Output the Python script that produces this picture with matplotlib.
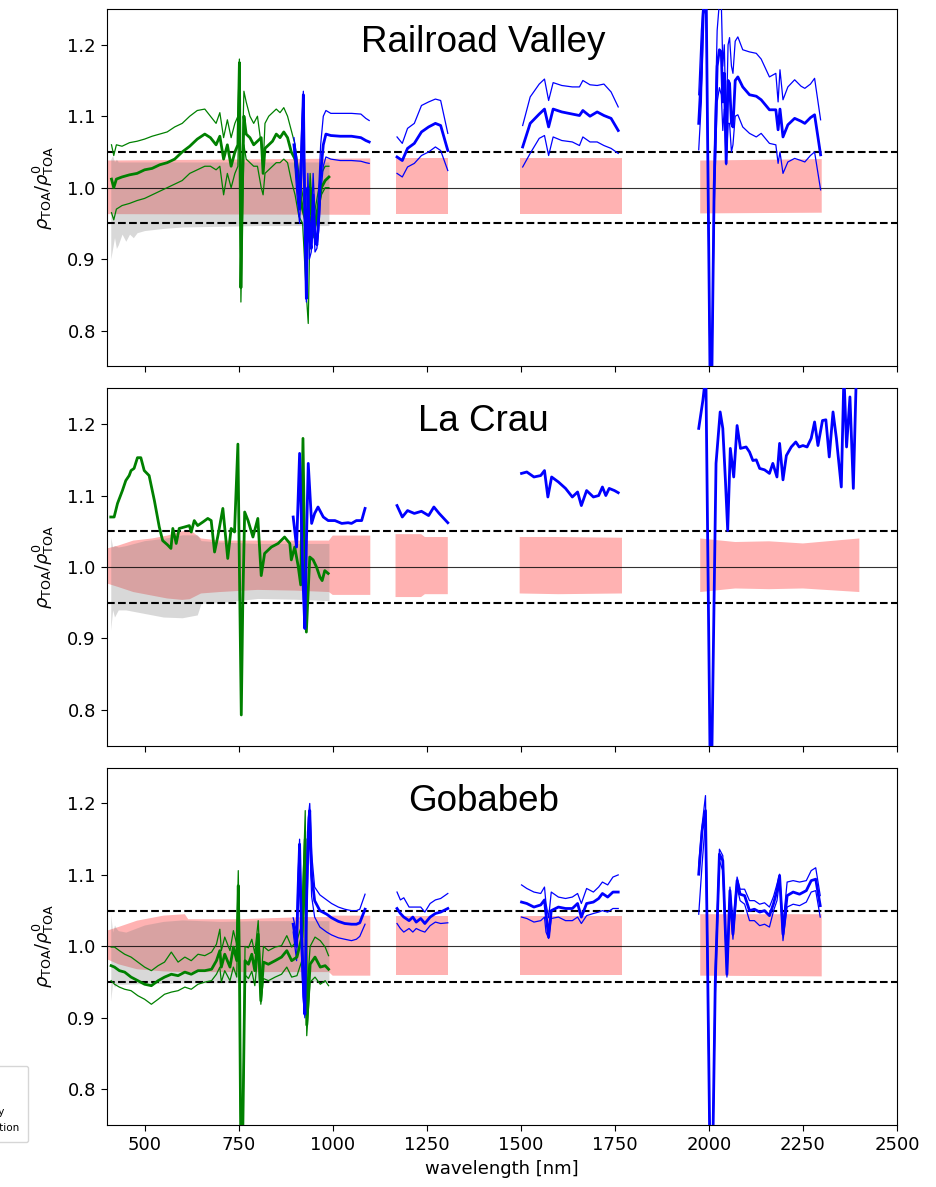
import numpy as np
import matplotlib
matplotlib.use("Agg")
import matplotlib.pyplot as plt
from matplotlib.lines import Line2D
from matplotlib.patches import Patch

nan = np.nan

# ── Railroad Valley ────────────────────────────────────────────────────
RV_VNIR_WL = [412, 418, 425, 440, 460, 480, 500, 520, 540, 560, 580, 600, 620, 640, 660,
              675, 690, 700, 710, 720, 730, 740, 748, 752, 756, 760, 764, 770, 780, 790,
              800, 810, 815, 820, 830, 840, 850, 860, 870, 880, 890, 900, 910, 920, 930,
              935, 940, 945, 950, 960, 970, 980, 990]
RV_VNIR_MEAN = [1.012, 1.0, 1.012, 1.015, 1.018, 1.02, 1.025, 1.027, 1.032, 1.035, 1.04, 1.05,
                1.058, 1.068, 1.075, 1.07, 1.06, 1.072, 1.04, 1.06, 1.03, 1.05, 1.06, 1.175,
                0.86, 1.0, 1.10, 1.075, 1.07, 1.06, 1.065, 1.07, 1.02, 1.055, 1.06, 1.065,
                1.075, 1.07, 1.078, 1.07, 1.05, 1.04, 1.0, 0.97, 0.95, 0.93, 1.0, 0.96, 0.94,
                0.97, 1.0, 1.01, 1.015]
RV_VNIR_HI = [1.06, 1.045, 1.06, 1.058, 1.063, 1.065, 1.068, 1.072, 1.075, 1.078, 1.085, 1.09,
              1.10, 1.108, 1.11, 1.10, 1.09, 1.105, 1.07, 1.095, 1.07, 1.09, 1.10, 1.18, 0.88,
              1.05, 1.135, 1.12, 1.10, 1.09, 1.10, 1.06, 1.03, 1.09, 1.10, 1.105, 1.11, 1.105,
              1.112, 1.10, 1.08, 1.06, 1.02, 0.99, 0.96, 0.95, 1.02, 0.98, 0.96, 0.99, 1.02,
              1.03, 1.03]
RV_VNIR_LO = [0.965, 0.955, 0.97, 0.975, 0.978, 0.982, 0.985, 0.99, 0.995, 1.0, 1.005, 1.01,
              1.02, 1.025, 1.03, 1.03, 1.025, 1.03, 0.99, 1.02, 1.0, 1.02, 1.03, 1.15, 0.84,
              0.95, 1.06, 1.04, 1.035, 1.03, 1.03, 1.0, 0.99, 1.02, 1.025, 1.03, 1.035, 1.035,
              1.04, 1.035, 1.01, 0.99, 0.96, 0.95, 0.85, 0.81, 0.96, 0.95, 0.93, 0.96, 0.99,
              1.0, 1.0]
RV_SWIR_WL = [897, 905, 912, 918, 922, 926, 930, 934, 938, 943, 948, 953, 958, 963, 968, 975,
              982, 995, 1020, 1050, 1075, 1088, 1097, nan,
              1171, 1185, 1199, 1217, 1236, 1255, 1273, 1287, 1306, nan,
              1505, 1525, 1549, 1563, 1574, 1586, 1609, 1637, 1656, 1665, 1684, 1703, 1721,
              1740, 1759, nan,
              1973, 1980, 1986, 1993, 1998, 2003, 2008, 2014, 2022, 2028, 2033, 2037, 2041,
              2046, 2051, 2055, 2060, 2064, 2070, 2077, 2090, 2108, 2126, 2139, 2161, 2178,
              2184, 2189, 2197, 2210, 2228, 2245, 2255, 2270, 2281, 2297]
RV_SWIR_MEAN = [1.06, 1.02, 0.97, 1.06, 1.13, 0.96, 0.845, 1.0, 0.93, 0.915, 0.99, 0.93, 0.92,
                0.96, 1.02, 1.06, 1.075, 1.073, 1.072, 1.072, 1.07, 1.066, 1.064, nan,
                1.043, 1.038, 1.055, 1.062, 1.078, 1.085, 1.090, 1.087, 1.052, nan,
                1.057, 1.090, 1.103, 1.110, 1.085, 1.110, 1.106, 1.103, 1.101, 1.108, 1.100,
                1.106, 1.101, 1.097, 1.080, nan,
                1.09, 1.16, 1.26, 1.26, 1.0, 0.74, 0.74, 1.0, 1.17, 1.193, 1.19, 1.12, 1.16,
                1.034, 1.15, 1.146, 1.09, 1.085, 1.15, 1.155, 1.141, 1.130, 1.128, 1.123,
                1.109, 1.109, 1.081, 1.11, 1.071, 1.088, 1.097, 1.093, 1.090, 1.098, 1.102,
                1.046]
RV_SWIR_HI = [1.07, 1.04, 1.0, 1.09, 1.135, 1.0, 0.87, 1.02, 0.96, 0.94, 1.02, 0.96, 0.95,
              1.0, 1.06, 1.10, 1.108, 1.104, 1.104, 1.104, 1.103, 1.097, 1.094, nan,
              1.071, 1.062, 1.083, 1.090, 1.115, 1.120, 1.124, 1.122, 1.076, nan,
              1.087, 1.127, 1.145, 1.152, 1.122, 1.147, 1.143, 1.141, 1.141, 1.150, 1.144,
              1.143, 1.145, 1.134, 1.113, nan,
              1.13, 1.22, 1.27, 1.27, 1.0, 0.74, 0.74, 1.03, 1.22, 1.26, 1.26, 1.17, 1.20,
              1.08, 1.20, 1.21, 1.17, 1.16, 1.205, 1.211, 1.193, 1.19, 1.188, 1.18, 1.155,
              1.16, 1.12, 1.165, 1.123, 1.141, 1.151, 1.142, 1.139, 1.145, 1.153, 1.095]
RV_SWIR_LO = [1.05, 0.99, 0.95, 1.02, 1.10, 0.93, 0.84, 0.97, 0.90, 0.91, 0.96, 0.91, 0.915,
              0.94, 0.99, 1.03, 1.043, 1.04, 1.038, 1.038, 1.037, 1.035, 1.034, nan,
              1.020, 1.015, 1.029, 1.034, 1.045, 1.050, 1.057, 1.052, 1.024, nan,
              1.029, 1.048, 1.069, 1.073, 1.045, 1.071, 1.066, 1.064, 1.059, 1.071, 1.064,
              1.064, 1.059, 1.055, 1.048, nan,
              1.053, 1.12, 1.25, 1.24, 0.98, 0.74, 0.74, 0.97, 1.12, 1.14, 1.13, 1.08, 1.11,
              1.032, 1.09, 1.09, 1.05, 1.06, 1.10, 1.102, 1.085, 1.076, 1.071, 1.076, 1.062,
              1.06, 1.034, 1.05, 1.020, 1.036, 1.041, 1.038, 1.036, 1.045, 1.050, 0.997]
RV_GREY_WL = [410, 415, 420, 425, 430, 440, 450, 460, 470, 480, 500, 550, 600, 700, 800, 900, 990]
RV_GREY_HI = [1.04, 1.045, 1.036, 1.04, 1.036, 1.036, 1.036, 1.036, 1.036, 1.036, 1.036, 1.036,
              1.036, 1.036, 1.036, 1.036, 1.036]
RV_GREY_LO = [0.90, 0.915, 0.93, 0.915, 0.92, 0.935, 0.925, 0.935, 0.93, 0.937, 0.94, 0.943,
              0.945, 0.946, 0.947, 0.947, 0.947]
RV_BAND_WL = [400, 1100, nan, 1167, 1306, nan, 1497, 1769, nan, 1977, 2300]
RV_BAND_HI = [1.038, 1.041, nan, 1.041, 1.041, nan, 1.041, 1.041, nan, 1.038, 1.040]
RV_BAND_LO = [0.963, 0.962, nan, 0.963, 0.963, nan, 0.963, 0.963, nan, 0.964, 0.965]

# ── La Crau ────────────────────────────────────────────────────────────
LC_VNIR_WL = [410, 419, 428, 441, 450, 459, 464, 472, 481, 490, 499, 512, 526, 539, 548, 561,
              570, 575, 584, 592, 606, 619, 624, 632, 641, 655, 668, 677, 686, 695, 708, 721,
              730, 739, 748, 752, 757, 761, 766, 775, 788, 801, 810, 819, 837, 855, 872, 886,
              890, 899, 908, 915, 921, 926, 930, 939, 948, 957, 966, 972, 979, 988]
LC_VNIR_MEAN = [1.070, 1.070, 1.089, 1.107, 1.121, 1.128, 1.135, 1.138, 1.153, 1.153, 1.135,
                1.128, 1.093, 1.056, 1.037, 1.031, 1.026, 1.054, 1.033, 1.054, 1.056, 1.058,
                1.049, 1.065, 1.058, 1.063, 1.068, 1.065, 1.021, 1.044, 1.082, 1.012, 1.054,
                1.049, 1.172, 1.0, 0.793, 0.95, 1.077, 1.065, 1.042, 1.068, 0.988, 1.019,
                1.028, 1.033, 1.042, 1.033, 1.01, 1.028, 1.002, 0.975, 1.180, 1.0, 0.909,
                1.014, 1.01, 1.0, 0.986, 0.981, 0.995, 0.991]
LC_SWIR_WL = [895, 904, 912, 921, 926, 930, 935, 944, 952, 961, 975, 988, 1006, 1024, 1041,
              1050, 1063, 1077, 1086, nan,
              1171, 1185, 1199, 1217, 1236, 1255, 1269, 1283, 1306, nan,
              1502, 1516, 1535, 1553, 1563, 1572, 1582, 1600, 1619, 1637, 1651, 1661, 1675,
              1693, 1707, 1717, 1726, 1735, 1749, 1759, nan,
              1973, 1984, 1992, 2003, 2008, 2019, 2030, 2037, 2044, 2050, 2057, 2066, 2075,
              2084, 2099, 2108, 2117, 2126, 2135, 2148, 2161, 2170, 2181, 2188, 2197, 2206,
              2219, 2231, 2240, 2250, 2261, 2272, 2281, 2290, 2302, 2311, 2320, 2330, 2339,
              2352, 2359, 2366, 2375, 2384, 2392]
LC_SWIR_MEAN = [1.070, 1.028, 1.159, 0.981, 0.914, 1.03, 1.145, 1.061, 1.075, 1.084, 1.070,
                1.065, 1.065, 1.061, 1.062, 1.061, 1.065, 1.065, 1.082, nan,
                1.086, 1.070, 1.079, 1.075, 1.078, 1.072, 1.084, 1.075, 1.062, nan,
                1.131, 1.133, 1.126, 1.128, 1.135, 1.098, 1.126, 1.119, 1.110, 1.098, 1.105,
                1.086, 1.107, 1.098, 1.100, 1.112, 1.100, 1.110, 1.107, 1.104, nan,
                1.194, 1.233, 1.27, 0.74, 0.74, 1.145, 1.217, 1.194, 1.121, 1.051, 1.166,
                1.126, 1.198, 1.166, 1.168, 1.161, 1.149, 1.150, 1.138, 1.136, 1.131, 1.145,
                1.126, 1.173, 1.122, 1.156, 1.168, 1.175, 1.168, 1.170, 1.168, 1.180, 1.203,
                1.170, 1.205, 1.206, 1.154, 1.217, 1.180, 1.112, 1.27, 1.168, 1.238, 1.110,
                1.27]
LC_GREY_WL = [410, 415, 420, 430, 450, 500, 550, 600, 640, 650, 700, 800, 900, 990]
LC_GREY_HI = [1.042, 1.028, 1.03, 1.028, 1.03, 1.037, 1.04, 1.045, 1.045, 1.037, 1.035, 1.033,
              1.033, 1.033]
LC_GREY_LO = [0.912, 0.94, 0.93, 0.94, 0.94, 0.935, 0.93, 0.929, 0.933, 0.949, 0.95, 0.956,
              0.955, 0.953]
LC_BAND_WL = [400, 430, 470, 520, 560, 600, 620, 650, 700, 800, 900, 990, 1000, 1100, nan,
              1167, 1235, 1245, 1306, nan, 1497, 1600, 1769, nan, 1977, 2070, 2160, 2250, 2400]
LC_BAND_HI = [1.026, 1.03, 1.037, 1.04, 1.044, 1.05, 1.052, 1.04, 1.037, 1.037, 1.037, 1.037,
              1.044, 1.044, nan, 1.046, 1.046, 1.042, 1.042, nan, 1.042, 1.042, 1.041, nan,
              1.040, 1.035, 1.036, 1.033, 1.040]
LC_BAND_LO = [0.977, 0.972, 0.965, 0.96, 0.956, 0.954, 0.955, 0.963, 0.965, 0.968, 0.967, 0.965,
              0.961, 0.961, nan, 0.958, 0.958, 0.962, 0.962, nan, 0.963, 0.962, 0.963, nan,
              0.965, 0.970, 0.969, 0.970, 0.965]

# ── Gobabeb ────────────────────────────────────────────────────────────
GB_VNIR_WL = [411, 420, 433, 447, 464, 482, 500, 518, 536, 553, 571, 589, 607, 624, 642, 660,
              678, 691, 700, 704, 713, 727, 736, 745, 749, 752, 756, 760, 767, 776, 785, 793,
              802, 809, 816, 829, 847, 864, 878, 891, 905, 918, 927, 931, 940, 953, 967, 980,
              989]
GB_VNIR_MEAN = [0.973, 0.971, 0.966, 0.964, 0.957, 0.952, 0.947, 0.945, 0.952, 0.957, 0.961,
                0.959, 0.964, 0.961, 0.966, 0.966, 0.968, 0.980, 0.994, 0.971, 0.989, 0.971,
                0.999, 0.980, 1.085, 0.98, 0.70, 0.70, 0.98, 0.975, 0.989, 0.966, 1.017, 0.924,
                0.978, 0.975, 0.980, 0.985, 0.994, 0.980, 0.985, 1.013, 1.15, 0.89, 0.975,
                0.985, 0.971, 0.973, 0.968]
GB_VNIR_HI = [0.999, 0.999, 0.994, 0.989, 0.985, 0.978, 0.971, 0.966, 0.973, 0.978, 0.992,
              0.978, 0.985, 0.980, 0.989, 0.987, 0.992, 1.003, 1.024, 0.994, 1.013, 0.994,
              1.022, 1.003, 1.106, 1.0, 0.70, 0.70, 1.0, 0.998, 1.01, 0.99, 1.036, 0.952, 1.0,
              0.994, 0.999, 1.001, 1.015, 0.999, 1.008, 1.031, 1.19, 0.93, 1.0, 1.013, 1.008,
              0.999, 0.987]
GB_VNIR_LO = [0.952, 0.947, 0.943, 0.940, 0.938, 0.931, 0.926, 0.919, 0.926, 0.933, 0.936,
              0.938, 0.943, 0.940, 0.947, 0.950, 0.952, 0.961, 0.971, 0.950, 0.966, 0.952,
              0.971, 0.957, 1.07, 0.96, 0.70, 0.70, 0.96, 0.955, 0.965, 0.945, 0.994, 0.919,
              0.955, 0.952, 0.957, 0.961, 0.971, 0.957, 0.959, 0.980, 1.10, 0.875, 0.95,
              0.957, 0.947, 0.952, 0.945]
GB_SWIR_WL = [895, 904, 908, 912, 917, 921, 926, 930, 935, 939, 944, 952, 966, 984, 997, 1015,
              1032, 1050, 1063, 1072, 1086, nan,
              1171, 1180, 1189, 1203, 1213, 1222, 1234, 1245, 1259, 1273, 1287, 1306, nan,
              1502, 1516, 1535, 1553, 1563, 1567, 1574, 1581, 1600, 1619, 1637, 1651, 1661,
              1675, 1693, 1707, 1717, 1731, 1745, 1759, nan,
              1973, 1982, 1991, 1996, 2003, 2010, 2017, 2028, 2037, 2048, 2056, 2064, 2075,
              2083, 2095, 2108, 2121, 2135, 2148, 2161, 2172, 2181, 2188, 2197, 2208, 2224,
              2241, 2259, 2272, 2284, 2296]
GB_SWIR_MEAN = [1.031, 1.0, 1.08, 1.143, 1.02, 0.96, 0.905, 1.05, 1.16, 1.19, 1.10, 1.064,
                1.05, 1.045, 1.04, 1.035, 1.032, 1.031, 1.031, 1.033, 1.052, nan,
                1.053, 1.046, 1.041, 1.036, 1.041, 1.034, 1.039, 1.032, 1.041, 1.046, 1.048,
                1.053, nan,
                1.062, 1.060, 1.055, 1.058, 1.065, 1.045, 1.013, 1.050, 1.055, 1.053, 1.053,
                1.060, 1.041, 1.060, 1.062, 1.067, 1.074, 1.069, 1.076, 1.076, nan,
                1.101, 1.162, 1.190, 1.0, 0.70, 0.70, 0.95, 1.129, 1.120, 0.961, 1.078, 1.017,
                1.092, 1.073, 1.071, 1.050, 1.052, 1.048, 1.050, 1.043, 1.06, 1.078, 1.099,
                1.017, 1.071, 1.076, 1.073, 1.078, 1.092, 1.094, 1.057]
GB_SWIR_HI = [1.04, 1.02, 1.10, 1.15, 1.05, 0.99, 0.93, 1.08, 1.18, 1.20, 1.13, 1.083, 1.072,
              1.065, 1.06, 1.055, 1.052, 1.050, 1.050, 1.052, 1.073, nan,
              1.076, 1.065, 1.068, 1.055, 1.055, 1.055, 1.055, 1.048, 1.060, 1.065, 1.067,
              1.074, nan,
              1.086, 1.081, 1.076, 1.074, 1.083, 1.06, 1.04, 1.076, 1.069, 1.067, 1.069, 1.074,
              1.060, 1.081, 1.076, 1.083, 1.090, 1.086, 1.097, 1.100, nan,
              1.115, 1.17, 1.211, 1.02, 0.70, 0.70, 0.97, 1.136, 1.127, 0.966, 1.083, 1.03,
              1.097, 1.080, 1.080, 1.064, 1.064, 1.059, 1.061, 1.055, 1.07, 1.087, 1.101,
              1.03, 1.090, 1.092, 1.090, 1.092, 1.106, 1.110, 1.071]
GB_SWIR_LO = [1.02, 0.98, 1.06, 1.12, 0.99, 0.93, 0.90, 1.02, 1.13, 1.15, 1.07, 1.041, 1.027,
              1.020, 1.016, 1.012, 1.010, 1.008, 1.010, 1.014, 1.031, nan,
              1.032, 1.025, 1.020, 1.025, 1.020, 1.025, 1.022, 1.020, 1.029, 1.034, 1.032,
              1.033, nan,
              1.041, 1.039, 1.034, 1.036, 1.041, 1.02, 1.011, 1.039, 1.041, 1.036, 1.036, 1.041,
              1.032, 1.043, 1.046, 1.048, 1.050, 1.048, 1.053, 1.053, nan,
              1.045, 1.115, 1.176, 0.98, 0.70, 0.70, 0.93, 1.120, 1.106, 0.957, 1.064, 1.01,
              1.083, 1.064, 1.059, 1.036, 1.036, 1.029, 1.031, 1.027, 1.05, 1.064, 1.092,
              1.008, 1.055, 1.059, 1.057, 1.062, 1.076, 1.078, 1.041]
GB_GREY_WL = [410, 415, 420, 425, 430, 450, 500, 550, 600, 700, 800, 900, 990]
GB_GREY_HI = [1.045, 1.02, 1.03, 1.025, 1.022, 1.02, 1.03, 1.035, 1.037, 1.035, 1.036, 1.036,
              1.036]
GB_GREY_LO = [0.924, 0.95, 0.943, 0.947, 0.947, 0.947, 0.948, 0.948, 0.949, 0.949, 0.950, 0.951,
              0.951]
GB_BAND_WL = [400, 430, 480, 550, 607, 616, 750, 930, 990, 1000, 1100, nan, 1167, 1306, nan,
              1497, 1769, nan, 1977, 2300]
GB_BAND_HI = [1.022, 1.027, 1.036, 1.043, 1.045, 1.038, 1.038, 1.041, 1.041, 1.043, 1.043, nan,
              1.043, 1.043, nan, 1.043, 1.043, nan, 1.045, 1.045]
GB_BAND_LO = [0.982, 0.975, 0.968, 0.965, 0.964, 0.964, 0.964, 0.964, 0.964, 0.959, 0.959, nan,
              0.96, 0.96, nan, 0.96, 0.96, nan, 0.959, 0.958]

SITES = ["Railroad Valley", "La Crau", "Gobabeb"]
X_TICKS = [500, 750, 1000, 1250, 1500, 1750, 2000, 2250, 2500]
Y_TICKS = [0.8, 0.9, 1.0, 1.1, 1.2]
YLABEL = r"$\rho_{\rm TOA}/\rho^0_{\rm TOA}$"
LEGEND_LABELS = ["VNIR", "SWIR", "spatial variability", "spatial interpolation"]


def draw_site(ax, name, band, grey, vnir, swir):
    bwl, bhi, blo = (np.asarray(a, dtype=float) for a in band)
    ax.fill_between(bwl, blo, bhi, color="red", alpha=0.3, lw=0, zorder=1)
    gwl, ghi, glo = grey
    ax.fill_between(gwl, glo, ghi, color="gray", alpha=0.3, lw=0, zorder=1.5)

    ax.axhline(1.0, color="k", lw=0.8, alpha=0.8, zorder=2)
    ax.axhline(1.05, color="k", lw=1.5, ls="--", zorder=2)
    ax.axhline(0.95, color="k", lw=1.5, ls="--", zorder=2)

    for color, (wl, mean, *bounds) in (("green", vnir), ("blue", swir)):
        for b in bounds:
            ax.plot(wl, b, color=color, lw=0.9, zorder=3)
        ax.plot(wl, mean, color=color, lw=2.0, zorder=3.5)

    ax.text(1400, 1.19, name, ha="center", va="baseline",
            family="Liberation Sans", fontsize=26.5)
    ax.set_ylabel(YLABEL, fontsize=13, labelpad=8)


fig, axes = plt.subplots(3, 1, sharex=True, figsize=(9.36, 11.87), dpi=100)
fig.subplots_adjust(left=0.1143, right=0.9583, top=0.9924, bottom=0.0522, hspace=0.0616)

draw_site(axes[0], SITES[0],
          (RV_BAND_WL, RV_BAND_HI, RV_BAND_LO),
          (RV_GREY_WL, RV_GREY_HI, RV_GREY_LO),
          (RV_VNIR_WL, RV_VNIR_MEAN, RV_VNIR_HI, RV_VNIR_LO),
          (RV_SWIR_WL, RV_SWIR_MEAN, RV_SWIR_HI, RV_SWIR_LO))
draw_site(axes[1], SITES[1],
          (LC_BAND_WL, LC_BAND_HI, LC_BAND_LO),
          (LC_GREY_WL, LC_GREY_HI, LC_GREY_LO),
          (LC_VNIR_WL, LC_VNIR_MEAN),
          (LC_SWIR_WL, LC_SWIR_MEAN))
draw_site(axes[2], SITES[2],
          (GB_BAND_WL, GB_BAND_HI, GB_BAND_LO),
          (GB_GREY_WL, GB_GREY_HI, GB_GREY_LO),
          (GB_VNIR_WL, GB_VNIR_MEAN, GB_VNIR_HI, GB_VNIR_LO),
          (GB_SWIR_WL, GB_SWIR_MEAN, GB_SWIR_HI, GB_SWIR_LO))

for ax in axes:
    ax.set_xlim(400, 2500)
    ax.set_ylim(0.75, 1.25)
    ax.set_xticks(X_TICKS)
    ax.set_yticks(Y_TICKS)
    ax.tick_params(labelsize=13, length=4.5)
axes[2].set_xlabel("wavelength [nm]", fontsize=13)

# the legend box hangs mostly off the left edge of the canvas
handles = [Line2D([], [], color="green", lw=2), Line2D([], [], color="blue", lw=2),
           Patch(color="gray", alpha=0.3), Patch(color="red", alpha=0.3)]
fig.legend(handles, LEGEND_LABELS, loc="lower right", bbox_to_anchor=(0.030, 0.0379),
           borderaxespad=0, borderpad=0.85, fontsize=7.5, labelspacing=0.6,
           edgecolor="0.8")

fig.savefig("out.png", dpi=100)
